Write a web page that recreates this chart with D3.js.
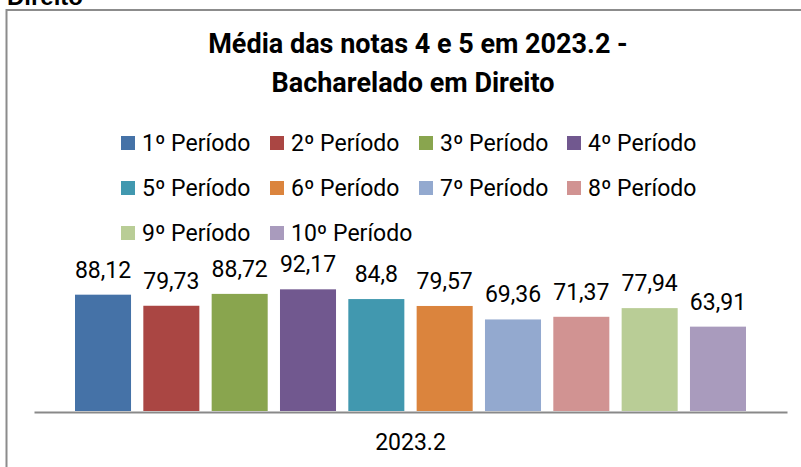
<!DOCTYPE html>
<html>
<head>
<meta charset="utf-8">
<script src="https://cdn.jsdelivr.net/npm/d3@7"></script>
<style>
  html, body { margin: 0; padding: 0; background: #fff; overflow: hidden; }
  svg { display: block; font-family: Roboto, "Liberation Sans", sans-serif; }
</style>
</head>
<body>
<svg id="chart" width="801" height="467"></svg>
<script>
const periods = ['1º Período', '2º Período', '3º Período', '4º Período', '5º Período',
  '6º Período', '7º Período', '8º Período', '9º Período', '10º Período'];
const values = [88.12, 79.73, 88.72, 92.17, 84.8, 79.57, 69.36, 71.37, 77.94, 63.91];
const valueLabels = ['88,12', '79,73', '88,72', '92,17', '84,8', '79,57', '69,36', '71,37', '77,94', '63,91'];
const category = '2023.2';
const colors = ['#4572A7', '#AA4643', '#89A54E', '#71588F', '#4198AF',
  '#DB843D', '#93A9CF', '#D19392', '#B9CD96', '#A99BBD'];
const titleLines = ['Média das notas 4 e 5 em 2023.2 -', 'Bacharelado em Direito'];

function renderChart() {
  const svg = d3.select('#chart');

  // texto cortado acima da moldura
  svg.append('text')
    .attr('x', 7)
    .attr('y', 5)
    .style('font-family', '"Liberation Sans", Arial, sans-serif')
    .style('font-weight', 'bold')
    .style('font-size', '24px')
    .style('fill', '#000')
    .text('Direito');

  // moldura
  svg.append('rect')
    .attr('x', 6.5)
    .attr('y', 10)
    .attr('width', 820)
    .attr('height', 480)
    .attr('fill', 'none')
    .attr('stroke', '#8c8c8c')
    .attr('stroke-width', 2);

  // título
  svg.append('text')
    .attr('text-anchor', 'middle')
    .style('font-weight', 'bold')
    .style('font-size', '27px')
    .style('fill', '#000')
    .selectAll('tspan')
    .data(titleLines)
    .enter()
    .append('tspan')
    .attr('x', (d, i) => i === 0 ? 418 : 413)
    .attr('y', (d, i) => 53 + i * 39)
    .text(d => d);

  // legenda
  const legendCols = [121, 270, 419, 567];
  const legendRows = [143, 188, 233];
  const legend = svg.append('g')
    .selectAll('g')
    .data(periods)
    .enter()
    .append('g')
    .attr('transform', (d, i) => `translate(${legendCols[i % 4]},${legendRows[Math.floor(i / 4)]})`);

  legend.append('rect')
    .attr('x', 0)
    .attr('y', -7)
    .attr('width', 14)
    .attr('height', 14)
    .attr('fill', (d, i) => colors[i]);

  legend.append('text')
    .attr('x', 21)
    .attr('y', 8)
    .style('font-size', '23px')
    .style('fill', '#000')
    .text(d => d);

  // barras
  const xScale = d3.scaleBand()
    .domain(periods)
    .range([34, 787])
    .paddingInner(0.18)
    .paddingOuter(0.6);

  const yScale = d3.scaleLinear()
    .domain([0, 100])
    .range([411, 279]);

  svg.selectAll('.bar')
    .data(values)
    .enter()
    .append('rect')
    .attr('class', 'bar')
    .attr('x', (d, i) => xScale(periods[i]))
    .attr('y', d => yScale(d))
    .attr('width', xScale.bandwidth())
    .attr('height', d => yScale(0) - yScale(d))
    .attr('fill', (d, i) => colors[i]);

  svg.selectAll('.label')
    .data(values)
    .enter()
    .append('text')
    .attr('class', 'label')
    .attr('x', (d, i) => xScale(periods[i]) + xScale.bandwidth() / 2)
    .attr('y', d => yScale(d) - 17)
    .attr('text-anchor', 'middle')
    .style('font-size', '23px')
    .style('fill', '#000')
    .text((d, i) => valueLabels[i]);

  // eixo X
  const xAxisScale = d3.scaleBand()
    .domain([category])
    .range([34, 787]);

  const xAxis = svg.append('g')
    .attr('transform', `translate(0,${yScale(0) + 1})`)
    .call(d3.axisBottom(xAxisScale).tickSize(0).tickPadding(22));

  xAxis.select('.domain')
    .attr('stroke', '#898989')
    .attr('stroke-width', 2);

  xAxis.selectAll('text')
    .style('font-family', 'Roboto, "Liberation Sans", sans-serif')
    .style('font-size', '23px')
    .style('fill', '#000');
}

renderChart();
</script>
</body>
</html>
